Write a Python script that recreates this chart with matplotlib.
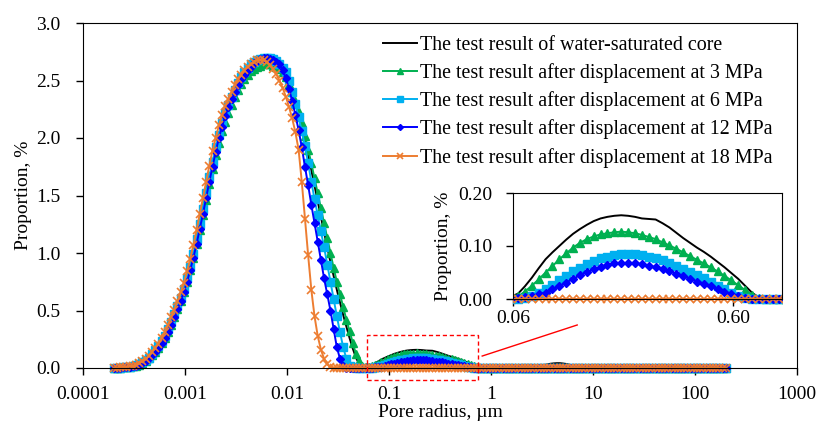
import numpy as np
import matplotlib
matplotlib.use("Agg")
import matplotlib.pyplot as plt
from matplotlib.patches import Rectangle
from matplotlib.ticker import FixedLocator, FuncFormatter, NullLocator

plt.rcParams['font.family'] = ['Liberation Serif', 'DejaVu Serif']

# pore radius grid (um), 32 points per decade from 0.0002 to 200
mant = [2.000, 2.149, 2.310, 2.482, 2.667, 2.866, 3.080, 3.310, 3.557, 3.822,
        4.107, 4.413, 4.743, 5.097, 5.477, 5.885, 6.325, 6.796, 7.303, 7.848,
        8.434, 9.063, 9.739, 10.466, 11.247, 12.086, 12.988, 13.957, 14.998,
        16.117, 17.319, 18.611]
radius = [m * 10.0**e for e in range(-4, 2) for m in mant] + [200.0]

# proportion (%)
water = ([0.00, 0.001, 0.003, 0.005, 0.008, 0.011, 0.015, 0.021, 0.03, 0.043,
          0.06, 0.083, 0.11, 0.14, 0.175, 0.215, 0.26, 0.315, 0.375, 0.44,
          0.51, 0.585, 0.66, 0.75, 0.85, 0.96, 1.08, 1.21, 1.34, 1.475,
          1.61, 1.745, 1.87, 1.98, 2.08, 2.16, 2.24, 2.31, 2.38, 2.43,
          2.48, 2.53, 2.57, 2.60, 2.62, 2.64, 2.65, 2.655, 2.65, 2.645,
          2.64, 2.625, 2.60, 2.565, 2.52, 2.455, 2.38, 2.295, 2.20, 2.095,
          1.98, 1.855, 1.72, 1.585, 1.45, 1.315, 1.18, 1.05, 0.92, 0.80,
          0.68, 0.57, 0.46, 0.36, 0.26, 0.17, 0.09, 0.035, 0.005, 0.005,
          0.01, 0.024, 0.04, 0.058, 0.075, 0.088, 0.10, 0.112, 0.123, 0.132,
          0.140, 0.147, 0.152, 0.155, 0.157, 0.158, 0.157, 0.155, 0.152, 0.151,
          0.150, 0.143, 0.135, 0.125, 0.115, 0.106, 0.097, 0.089, 0.080, 0.070,
          0.060, 0.049, 0.038, 0.025, 0.012, 0.003]
         + [0.0] * 14
         + [0.003, 0.006, 0.01, 0.015, 0.02, 0.026, 0.032, 0.037, 0.04, 0.042,
            0.042, 0.039, 0.035, 0.028, 0.02, 0.014, 0.008, 0.003, 0.0]
         + [0.0] * 44)
mpa3 = ([0.00, 0.001, 0.003, 0.005, 0.008, 0.011, 0.015, 0.021, 0.03, 0.043,
         0.06, 0.083, 0.11, 0.14, 0.175, 0.215, 0.26, 0.315, 0.375, 0.44,
         0.51, 0.585, 0.66, 0.75, 0.85, 0.96, 1.08, 1.20, 1.33, 1.465,
         1.60, 1.73, 1.85, 1.96, 2.06, 2.14, 2.22, 2.29, 2.36, 2.42,
         2.47, 2.51, 2.55, 2.58, 2.60, 2.62, 2.63, 2.64, 2.64, 2.64,
         2.63, 2.62, 2.60, 2.57, 2.53, 2.47, 2.40, 2.32, 2.23, 2.13,
         2.02, 1.90, 1.78, 1.65, 1.52, 1.39, 1.26, 1.13, 1.00, 0.87,
         0.75, 0.64, 0.53, 0.42, 0.32, 0.22, 0.12, 0.06, 0.02, 0.008,
         0.005, 0.014, 0.025, 0.037, 0.05, 0.062, 0.075, 0.086, 0.097, 0.106,
         0.113, 0.118, 0.122, 0.124, 0.126, 0.127, 0.126, 0.124, 0.121, 0.117,
         0.113, 0.107, 0.101, 0.095, 0.088, 0.081, 0.074, 0.067, 0.060, 0.052,
         0.044, 0.035, 0.026, 0.017, 0.008, 0.002]
        + [0.0] * 77)
mpa6 = ([0.00, 0.002, 0.004, 0.006, 0.009, 0.013, 0.017, 0.024, 0.034, 0.048,
         0.067, 0.091, 0.12, 0.153, 0.19, 0.233, 0.28, 0.338, 0.40, 0.468,
         0.54, 0.613, 0.69, 0.78, 0.88, 0.995, 1.12, 1.25, 1.38, 1.52,
         1.66, 1.79, 1.92, 2.03, 2.13, 2.215, 2.29, 2.36, 2.42, 2.48,
         2.53, 2.575, 2.61, 2.64, 2.66, 2.68, 2.69, 2.70, 2.70, 2.70,
         2.69, 2.67, 2.64, 2.61, 2.57, 2.50, 2.40, 2.30, 2.18, 2.06,
         1.93, 1.78, 1.62, 1.47, 1.33, 1.19, 1.05, 0.90, 0.75, 0.60,
         0.45, 0.31, 0.18, 0.08, 0.02, 0.005, 0.0]
        + [0.0] * 3
        + [0.0, 0.002, 0.005, 0.011, 0.018, 0.026, 0.035, 0.044, 0.052, 0.059,
           0.066, 0.072, 0.077, 0.080, 0.083, 0.084, 0.085, 0.085, 0.083, 0.080,
           0.077, 0.073, 0.068, 0.063, 0.057, 0.051, 0.045, 0.039, 0.032, 0.025,
           0.018, 0.012, 0.006, 0.002, 0.0]
        + [0.0] * 78)
mpa12 = ([0.00, 0.001, 0.003, 0.005, 0.008, 0.011, 0.015, 0.021, 0.03, 0.043,
          0.06, 0.083, 0.11, 0.14, 0.175, 0.215, 0.26, 0.315, 0.375, 0.44,
          0.51, 0.585, 0.66, 0.75, 0.85, 0.96, 1.08, 1.21, 1.34, 1.48,
          1.62, 1.75, 1.88, 2.00, 2.10, 2.19, 2.27, 2.34, 2.40, 2.46,
          2.51, 2.55, 2.59, 2.62, 2.65, 2.67, 2.69, 2.70, 2.70, 2.69,
          2.68, 2.665, 2.64, 2.59, 2.52, 2.43, 2.32, 2.20, 2.07, 1.92,
          1.75, 1.59, 1.42, 1.26, 1.10, 0.94, 0.78, 0.64, 0.50, 0.34,
          0.18, 0.08, 0.02, 0.0]
         + [0.0] * 6
         + [0.002, 0.004, 0.006, 0.009, 0.012, 0.018, 0.024, 0.031, 0.038, 0.045,
            0.051, 0.056, 0.061, 0.064, 0.067, 0.068, 0.068, 0.067, 0.066, 0.063,
            0.060, 0.056, 0.052, 0.048, 0.043, 0.038, 0.033, 0.029, 0.024, 0.019,
            0.014, 0.009, 0.005, 0.002, 0.0]
         + [0.0] * 78)
mpa18 = ([0.00, 0.002, 0.005, 0.007, 0.01, 0.015, 0.02, 0.03, 0.04, 0.058,
          0.08, 0.107, 0.14, 0.173, 0.21, 0.257, 0.31, 0.373, 0.44, 0.508,
          0.58, 0.657, 0.74, 0.84, 0.95, 1.07, 1.20, 1.34, 1.48, 1.62,
          1.76, 1.89, 2.00, 2.11, 2.20, 2.28, 2.34, 2.40, 2.46, 2.51,
          2.55, 2.59, 2.62, 2.645, 2.66, 2.675, 2.68, 2.675, 2.66, 2.635,
          2.60, 2.555, 2.50, 2.435, 2.36, 2.27, 2.17, 2.05, 1.90, 1.62,
          1.30, 0.98, 0.68, 0.45, 0.28, 0.16, 0.08, 0.035, 0.01]
         + [0.0] * 124)

labels = ["The test result of water-saturated core",
          "The test result after displacement at 3 MPa",
          "The test result after displacement at 6 MPa",
          "The test result after displacement at 12 MPa",
          "The test result after displacement at 18 MPa"]

series = [water, mpa3, mpa6, mpa12, mpa18]
styles = [dict(color='black', lw=1.4),
          dict(color='#00B050', lw=1.4, marker='^', ms=5.5),
          dict(color='#00B0F0', lw=1.4, marker='s', ms=5.3),
          dict(color='#0000FF', lw=1.4, marker='D', ms=3.8),
          dict(color='#ED7D31', lw=1.4, marker='x', ms=5.5, mew=1.2)]

W, H = 816, 425
fig = plt.figure(figsize=(W / 100, H / 100), dpi=100)
ax = fig.add_axes([83 / W, 1 - 368 / H, 714 / W, 345 / H])

clip_main = Rectangle((0, -0.05), 1, 1.1, transform=ax.transAxes)
for y, lab, st in zip(series, labels, styles):
    line, = ax.plot(radius, y, label=lab, **st)
    line.set_clip_path(clip_main)

ax.set_xscale('log')
ax.set_xlim(1e-4, 1e3)
ax.set_ylim(0, 3.0)
ax.xaxis.set_major_locator(FixedLocator([1e-4, 1e-3, 1e-2, 0.1, 1, 10, 100, 1000]))
ax.xaxis.set_major_formatter(FuncFormatter(lambda v, p: '%g' % v))
ax.xaxis.set_minor_locator(NullLocator())
ax.set_yticks(np.arange(0, 3.01, 0.5))
ax.yaxis.set_major_formatter(FuncFormatter(lambda v, p: '%.1f' % v))
ax.tick_params(axis='both', direction='out', length=5, width=1, labelsize=14)
ax.tick_params(axis='y', pad=11)
ax.tick_params(axis='x', pad=8)
ax.set_xlabel('Pore radius, µm', fontsize=14, labelpad=1)
ax.set_ylabel('Proportion, %', fontsize=14, labelpad=3)

ax.legend(loc='upper left', bbox_to_anchor=(0.42, 0.962), frameon=False,
          fontsize=14.4, handlelength=1.7, handletextpad=0.18,
          labelspacing=0.41, borderpad=0, borderaxespad=0, markerscale=0.8)

# zoom box and connector
ax.add_patch(Rectangle((0.061, -0.104), 0.685, 0.391, fill=False, ec='red',
                       ls=(0, (3, 2)), lw=1, clip_on=False, zorder=5))
ax.plot([0.82, 7.0], [0.104, 0.374], color='red', lw=1, clip_on=False, zorder=5)

# inset
axin = fig.add_axes([513 / W, 1 - 299 / H, 269 / W, 106 / H])
clip_in = Rectangle((0, -0.1), 1, 1.2, transform=axin.transAxes)
for y, st in zip(series, styles):
    line, = axin.plot(radius, y, **st)
    line.set_clip_path(clip_in)
axin.set_xscale('log')
axin.set_xlim(0.06, 1.0)
axin.set_ylim(0, 0.2)
axin.xaxis.set_major_locator(FixedLocator([0.06, 0.6]))
axin.xaxis.set_major_formatter(FuncFormatter(lambda v, p: '%.2f' % v))
axin.xaxis.set_minor_locator(NullLocator())
axin.set_yticks([0, 0.1, 0.2])
axin.yaxis.set_major_formatter(FuncFormatter(lambda v, p: '%.2f' % v))
axin.tick_params(axis='both', direction='out', length=5, width=1, labelsize=14)
axin.tick_params(axis='y', pad=10)
axin.tick_params(axis='x', pad=3)
axin.set_ylabel('Proportion, %', fontsize=14, labelpad=4)

fig.savefig('out.png', dpi=100)
